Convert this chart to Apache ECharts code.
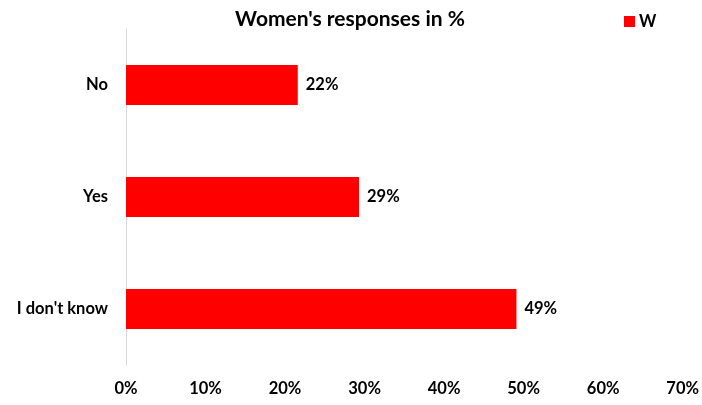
<!DOCTYPE html>
<html>
<head>
<meta charset="utf-8">
<script src="https://cdn.jsdelivr.net/npm/echarts@6/dist/echarts.min.js"></script>
<style>
  html, body { margin: 0; padding: 0; background: #fff; }
  #chart { width: 702px; height: 405px; }
</style>
</head>
<body>
<div id="chart"></div>
<script>
// Survey answers (top to bottom as listed on the axis)
const categories = ['I don\'t know', 'Yes', 'No'];
const womenShare = [49.1, 29.3, 21.6];
const seriesName = 'W';
const xTicks = [0, 10, 20, 30, 40, 50, 60, 70];

const FONT = 'Lato, "Open Sans", sans-serif';

const chart = echarts.init(document.getElementById('chart'));
chart.setOption({
  animation: false,
  title: {
    text: 'Women\'s responses in %',
    left: 345,
    textAlign: 'center',
    top: 4,
    textStyle: { fontFamily: FONT, fontWeight: 'bold', fontSize: 21, color: '#000' }
  },
  legend: {
    data: [seriesName],
    left: 619,
    top: 8,
    itemWidth: 11,
    itemHeight: 11,
    itemGap: 5,
    icon: 'rect',
    textStyle: { fontFamily: FONT, fontWeight: 'bold', fontSize: 16.5, color: '#000', padding: [0, 0, 0, -1] }
  },
  grid: { left: 126, right: 16, top: 29, bottom: 40, containLabel: false },
  xAxis: {
    type: 'value',
    min: xTicks[0],
    max: xTicks[xTicks.length - 1],
    interval: 10,
    axisLine: { show: false },
    axisTick: { show: false },
    splitLine: { show: false },
    axisLabel: {
      margin: 15,
      formatter: v => v + '%',
      fontFamily: FONT, fontWeight: 'bold', fontSize: 16.5, color: '#000'
    }
  },
  yAxis: {
    type: 'category',
    data: categories,
    axisLine: { show: true, lineStyle: { color: '#d9d9d9', width: 1 } },
    axisTick: { show: false },
    axisLabel: {
      margin: 18,
      fontFamily: FONT, fontWeight: 'bold', fontSize: 16.5, color: '#000'
    }
  },
  series: [{
    name: seriesName,
    type: 'bar',
    data: womenShare,
    barWidth: 40,
    itemStyle: { color: '#ff0000' },
    label: {
      show: true,
      position: 'right',
      distance: 8,
      formatter: p => Math.round(p.value) + '%',
      fontFamily: FONT, fontWeight: 'bold', fontSize: 16.5, color: '#000'
    }
  }]
});
</script>
</body>
</html>
